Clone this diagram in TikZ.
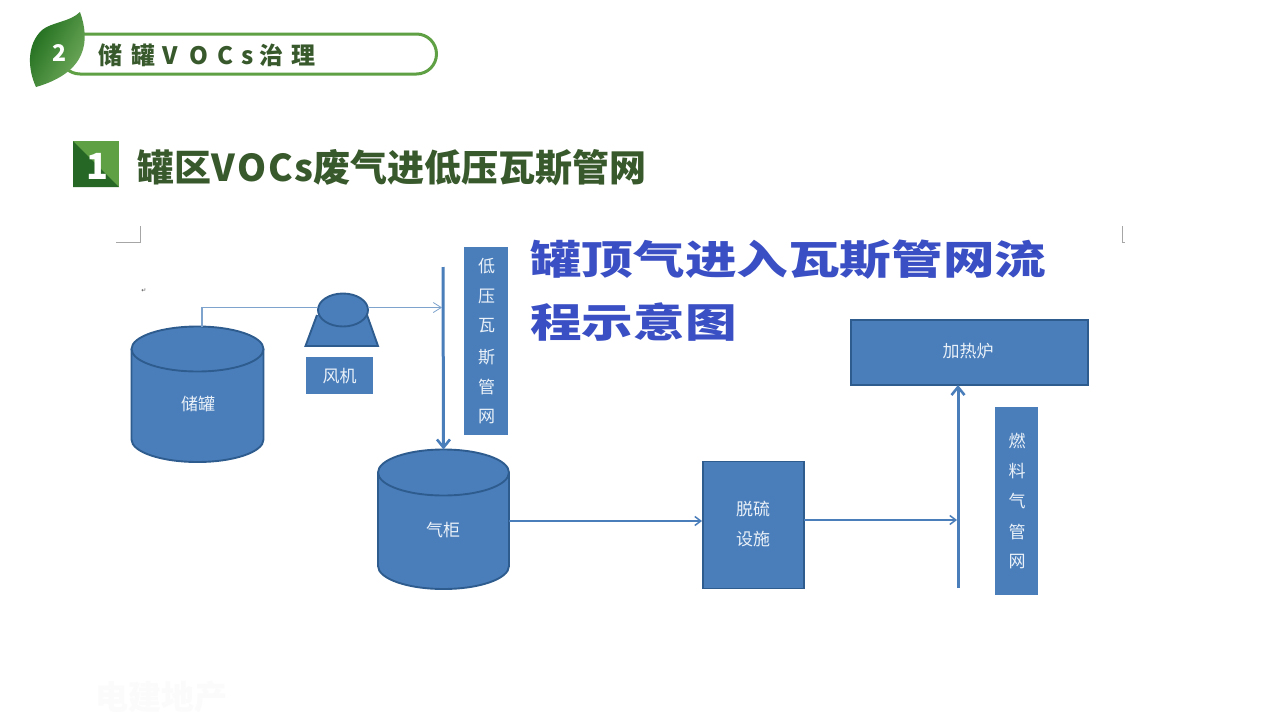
\documentclass[tikz,border=0pt]{standalone}
\usepackage{fontspec}
\setmainfont{Noto Sans CJK SC}
\newfontfamily\arrowfont{DejaVu Sans}
\newcommand{\fs}[1]{\fontsize{#1}{#1}\selectfont}
\definecolor{blueA}{HTML}{4A7EBB}
\definecolor{blueE}{HTML}{2E5C8E}
\definecolor{blueThin}{HTML}{7EA3CC}
\definecolor{titleB}{HTML}{3A4FC4}
\definecolor{greenT}{HTML}{38592B}
\definecolor{greenL}{HTML}{5FA044}
\definecolor{labW}{HTML}{EAF1F8}
\usetikzlibrary{arrows.meta}
\tikzset{
  x=1pt,y=-1pt,
  lab/.style={text=labW,font=\fs{17},inner sep=0pt},
  flatbox/.style={fill=blueA,draw=none,inner sep=0pt,anchor=north west},
  edgebox/.style={fill=blueA,draw=blueE,line width=1.9pt,inner sep=0pt,anchor=center},
  body/.style={fill=blueA,draw=blueE,line width=1.9pt},
  thick arrow/.style={draw=blueA,line width=3pt,-{Straight Barb[length=8pt,width=13pt,line width=2.6pt]}},
  mid arrow/.style={draw=blueA,line width=1.7pt,-{Straight Barb[length=6pt,width=9pt,line width=1.5pt]}},
  thin arrow/.style={draw=blueThin,line width=1.1pt},
  crop/.style={draw=black!35,line width=.8pt},
  flowtitle/.style={font=\fs{40}\bfseries,text=titleB,inner sep=0pt,anchor=west,xscale=1.29},
}
% cx, top y, bottom y, rx, ry, name
\newcommand{\cyl}[6]{%
  \draw[body] ({#1-#4},{#2+#5}) arc[start angle=180,end angle=360,x radius=#4,y radius=#5]
     -- ({#1+#4},{#3-#5}) arc[start angle=0,end angle=180,x radius=#4,y radius=#5] -- cycle;
  \draw[body] ({#1-#4},{#2+#5}) arc[start angle=180,end angle=0,x radius=#4,y radius=#5];
  \coordinate (#6 top) at (#1,#2);
}
\begin{document}
\begin{tikzpicture}
\useasboundingbox (0,0) rectangle (1280,720);
\fill[white] (0,0) rectangle (1280,720);
% header
\draw[greenL,line width=3pt,rounded corners=20pt] (60,34) rectangle (436.5,74);
\path[left color=green!35!black!90,right color=greenL!85!white,shading angle=60]
  (80,12) .. controls (90,40) and (88,72) .. (36,87) .. controls (28,70) and (26,45) .. (42,30) .. controls (52,22) and (70,22) .. (80,12) -- cycle;
\node[font=\fs{23}\bfseries,text=white,inner sep=0pt] (num2) at (60,53) {2};
\node[font=\fs{24}\bfseries,text=greenT,inner sep=0pt,anchor=west] (head) at (98,55)
 {储\kern9pt 罐\kern7pt V\kern11.5pt O\kern9.7pt C\kern8pt s\kern6pt 治\kern8pt 理};
% section title
\fill[greenL] (73,141) rectangle (119,187);
\fill[green!30!black!85] (73,141) -- (119,187) -- (73,187) -- cycle;
\node[font=\fs{36}\bfseries,text=white,inner sep=0pt] (num1) at (97,166) {1};
\node[font=\fs{37}\bfseries,text=greenT,inner sep=0pt,anchor=west] (sect) at (137,168) {罐区\kern.5pt V\kern1.8pt O\kern1.8pt C\kern1.8pt s\kern.5pt 废气进低压瓦斯管网};
% crop marks
\coordinate (c1) at (116,242); \coordinate (c2) at (140,242); \coordinate (c3) at (140,226);
\draw[crop] (c1) -- (c2) -- (c3);
\coordinate (c4) at (1122,226); \coordinate (c5) at (1122,242); \coordinate (c6) at (1125,242);
\draw[crop] (c4) -- (c5) -- (c6);
\node[font=\arrowfont\fs{6},text=black!70,inner sep=0pt] (ret) at (144,291) {↵};
% flow title
\node[flowtitle] (t1) at (530,260) {罐顶气进入瓦斯管网流};
\node[flowtitle] (t2) at (530,322) {程示意图};
% tank
\cyl{197.5}{326.5}{462}{66}{22.5}{tank}
\node[lab] (tanklab) at (198,404) {储罐};
% fan
\draw[body] (317,315) -- (305.5,346) -- (378,346) -- (367,315);
\draw[body] (343,310) ellipse[x radius=25,y radius=16.5];
\node[flatbox,minimum width=67pt,minimum height=37pt] (fanbox) at (306,357) {};
\node[lab] (fanlab) at (339.5,376) {风机};
\node[flatbox,minimum width=44pt,minimum height=188pt] (lpbox) at (464,247) {};
\foreach \c/\y/\n in {低/266/a,压/296/b,瓦/326/c,斯/357/d,管/387/e,网/417/f}
  \node[lab] (lp\n) at (486.5,\y) {\c};
% gas holder
\cyl{443.5}{449.5}{589}{65.5}{23}{gas}
\node[lab] (gaslab) at (443,530) {气柜};
% desulf
\node[edgebox,minimum width=101pt,minimum height=127pt] (des) at (753.2,525) {};
\node[lab] (d1) at (753,509) {脱硫};
\node[lab] (d2) at (753,539) {设施};
% furnace
\node[edgebox,minimum width=237pt,minimum height=65pt] (fur) at (969.5,352.3) {};
\node[lab] (furlab) at (968,351) {加热炉};
% fuel
\node[flatbox,minimum width=43pt,minimum height=188pt] (fuel) at (995,407) {};
\foreach \c/\y/\n in {燃/441/a,料/471/b,气/501/c,管/532/d,网/562/e}
  \node[lab] (fu\n) at (1017,\y) {\c};
% connectors
\coordinate (lpstart) at (443,267);
\draw[thick arrow] (lpstart) -- (gas top);
\coordinate (fuelstart) at (958,588);
\coordinate (furin) at (958,385);
\draw[thick arrow] (fuelstart) -- (furin);
\coordinate (fueljoin) at (957,520);
\coordinate (gasout) at (509,521);
\coordinate (desin) at (702,521);
\coordinate (desout) at (804,520);
\draw[mid arrow] (gasout) -- (desin);
\draw[mid arrow] (desout) -- (fueljoin);
\coordinate (tankup) at (202,327);
\coordinate (tankbend) at (202,307.5);
\coordinate (fanL) at (318,307.5);
\coordinate (fanR) at (368,307.5);
\coordinate (lpjoin) at (442,307.5);
\draw[thin arrow] (tankup) -- (tankbend) -- (fanL);
\draw[thin arrow,-{Straight Barb[length=8pt,width=10pt,line width=.8pt]}] (fanR) -- (lpjoin);
% watermark
\node[font=\fs{33}\bfseries,text=black!1.6,inner sep=0pt] (wm) at (161,697) {电建地产};
\end{tikzpicture}
\end{document}
